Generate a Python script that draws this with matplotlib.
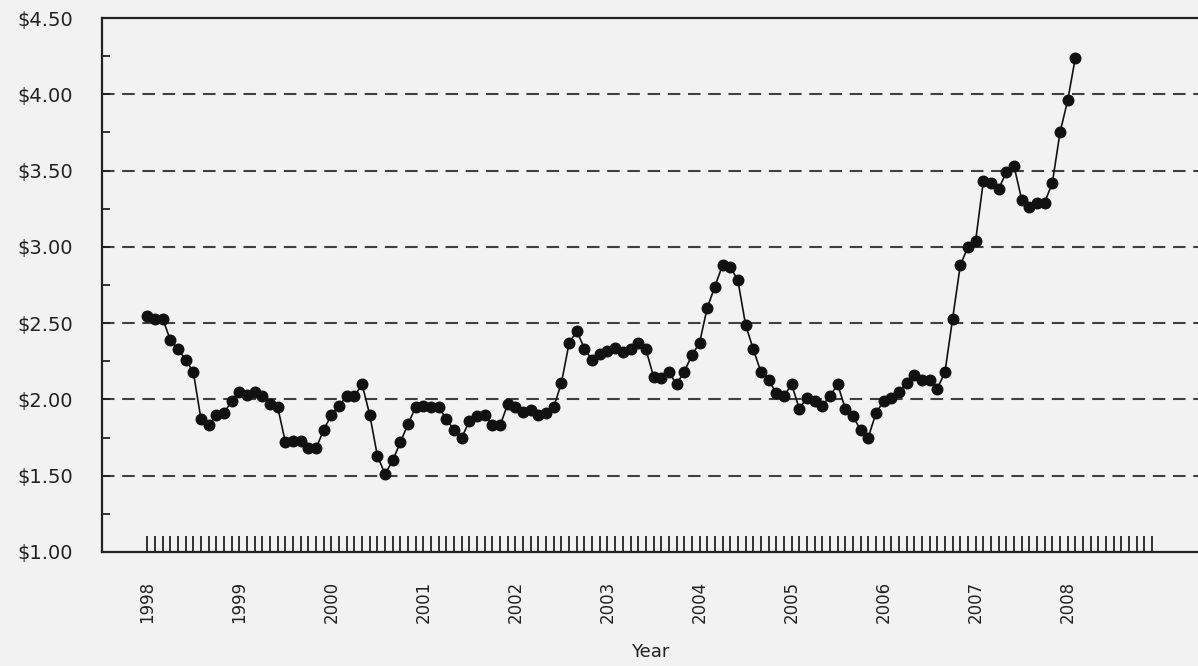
import matplotlib
matplotlib.use("Agg")
import matplotlib.pyplot as plt

# monthly average price, Jan 1998 .. Feb 2008
prices = [2.55, 2.53, 2.53, 2.39, 2.33, 2.26, 2.18, 1.87, 1.83, 1.90, 1.91, 1.99,
          2.05, 2.03, 2.05, 2.02, 1.97, 1.95, 1.72, 1.73, 1.73, 1.68, 1.68, 1.80,
          1.90, 1.96, 2.02, 2.02, 2.10, 1.90, 1.63, 1.51, 1.60, 1.72, 1.84, 1.95,
          1.96, 1.95, 1.95, 1.87, 1.80, 1.75, 1.86, 1.89, 1.90, 1.83, 1.83, 1.97,
          1.95, 1.92, 1.93, 1.90, 1.91, 1.95, 2.11, 2.37, 2.45, 2.33, 2.26, 2.30,
          2.32, 2.34, 2.31, 2.33, 2.37, 2.33, 2.15, 2.14, 2.18, 2.10, 2.18, 2.29,
          2.37, 2.60, 2.74, 2.88, 2.87, 2.78, 2.49, 2.33, 2.18, 2.13, 2.04, 2.02,
          2.10, 1.94, 2.01, 1.99, 1.96, 2.02, 2.10, 1.94, 1.89, 1.80, 1.75, 1.91,
          1.99, 2.01, 2.05, 2.11, 2.16, 2.13, 2.13, 2.07, 2.18, 2.53, 2.88, 3.00,
          3.04, 3.43, 3.42, 3.38, 3.49, 3.53, 3.31, 3.26, 3.29, 3.29, 3.42, 3.75,
          3.96, 4.24]
years = ["1998", "1999", "2000", "2001", "2002", "2003",
         "2004", "2005", "2006", "2007", "2008"]
y_ticks = [1.0, 1.5, 2.0, 2.5, 3.0, 3.5, 4.0, 4.5]
n_tick_months = 132

bg = "#f2f2f2"
months = list(range(len(prices)))

fig = plt.figure(figsize=(11.98, 6.66), dpi=100, facecolor=bg)
ax = fig.add_axes([102 / 1198, 114 / 666, 1096 / 1198, 534 / 666], facecolor=bg)

for v in y_ticks[1:-1]:
    ax.axhline(v, color="#404040", lw=1.5, ls=(0, (6, 3.7)), zorder=1)

ax.plot(months, prices, color="#111111", lw=1.2, marker="o", ms=7.6,
        mfc="#111111", mec="#111111", zorder=3)

ax.set_xlim(-5.906, 136.99)
ax.set_ylim(1.0, 4.5)

ax.set_xticks(range(n_tick_months))
ax.set_xticklabels([years[i // 12] if i % 12 == 0 and i // 12 < len(years) else ""
                    for i in range(n_tick_months)], rotation=90, fontsize=12, color="#222222")
ax.tick_params(axis="x", direction="in", length=11.5, width=1.3, color="#222222", pad=21)

ax.set_yticks(y_ticks)
ax.set_yticklabels(["$%.2f" % v for v in y_ticks], fontsize=14, color="#222222")
ax.set_yticks([1.25, 1.75, 2.25, 2.75, 3.25, 3.75, 4.25], minor=True)
ax.tick_params(axis="y", which="both", direction="in", length=6, width=1.3,
               color="#222222", pad=21)

for s in ["left", "bottom", "top"]:
    ax.spines[s].set_linewidth(1.6)
    ax.spines[s].set_color("#222222")
ax.spines["right"].set_visible(False)

ax.set_xlabel("Year", fontsize=13, color="#222222", labelpad=14)

fig.savefig("out.png", dpi=100, facecolor=bg)
